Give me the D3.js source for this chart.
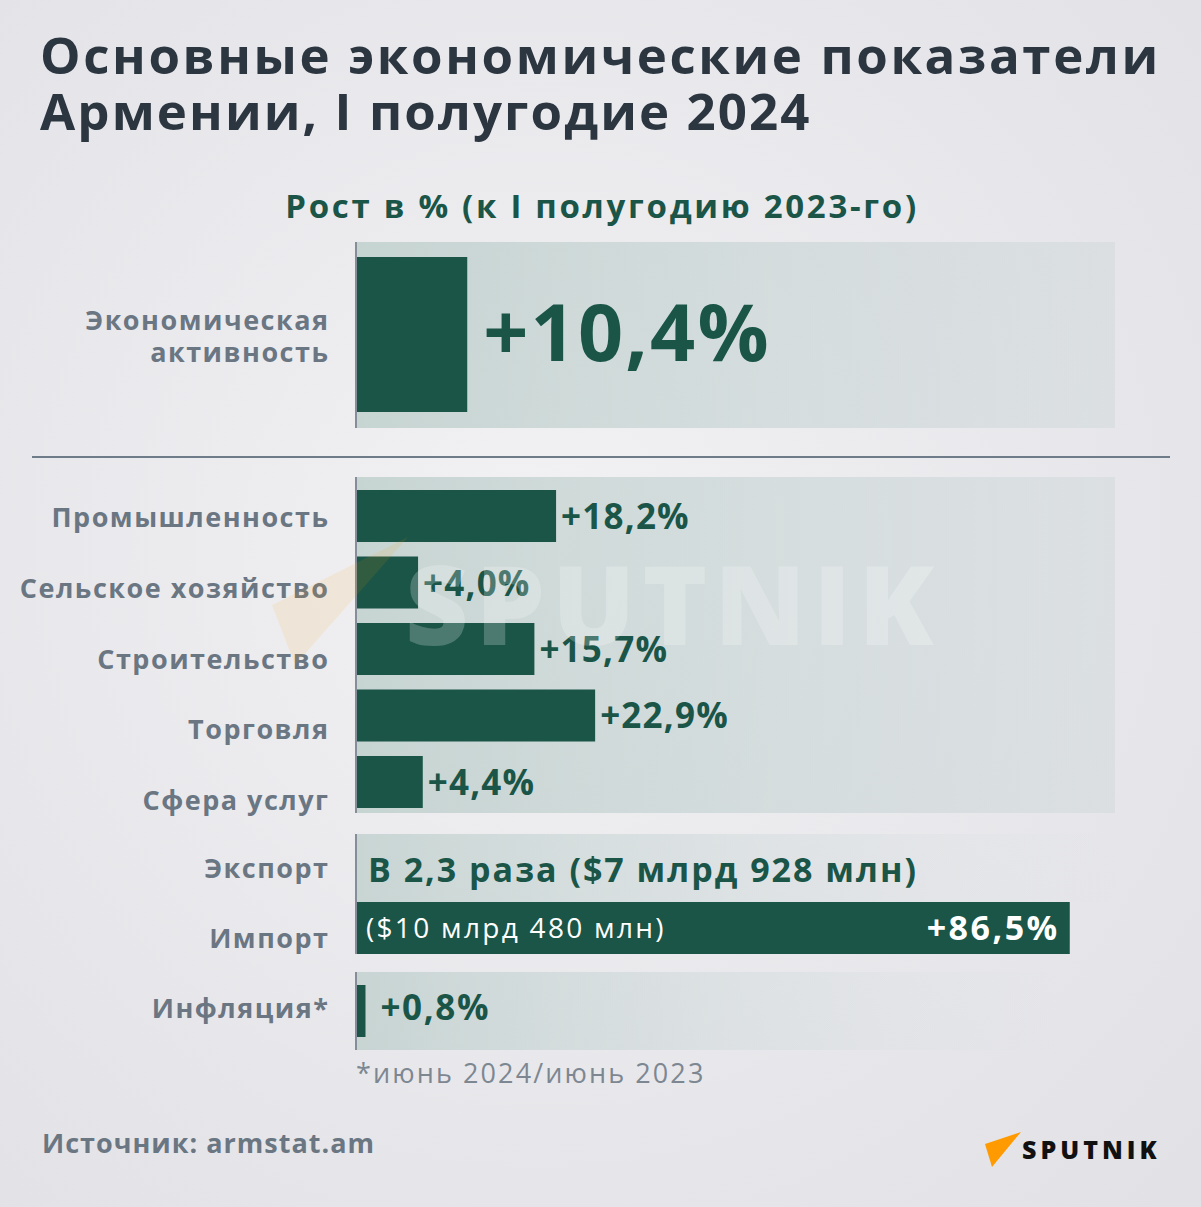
<!DOCTYPE html>
<html><head><meta charset="utf-8">
<script src="https://cdn.jsdelivr.net/npm/d3@7"></script>
<style>html,body{margin:0;padding:0;background:#e6e6ea}svg{display:block}</style>
</head><body>
<script>
// ---------- data ----------
const titleLines = ["Основные экономические показатели", "Армении, I полугодие 2024"];
const subtitle = "Рост в % (к I полугодию 2023-го)";
const topCategory = ["Экономическая", "активность"];
const topValues = [10.4];
const sectorCategories = ["Промышленность", "Сельское хозяйство", "Строительство", "Торговля", "Сфера услуг"];
const sectorValues = [18.2, 4.0, 15.7, 22.9, 4.4];
const tradeCategories = ["Экспорт", "Импорт"];
const exportNote = "В 2,3 раза ($7 млрд 928 млн)";
const importValues = [86.5];
const importNote = "($10 млрд 480 млн)";
const inflationCategory = "Инфляция*";
const inflationValues = [0.8];
const footnote = "*июнь 2024/июнь 2023";
const source = "Источник: armstat.am";

const fmt = v => "+" + d3.format(".1f")(v).replace(".", ",") + "%";

// ---------- styles ----------
const W = 1201, H = 1207;
const FONT = "'Open Sans', 'Noto Sans', sans-serif";
const GREEN = "#1a5548", DARK = "#2c3640", GRAY = "#6b7683";
const X0 = 357, LABEL_X = 328;

const svg = d3.select("body").append("svg").attr("width", W).attr("height", H)
  .style("font-family", FONT);
const defs = svg.append("defs");

const bgGrad = defs.append("radialGradient").attr("id", "bg")
  .attr("cx", "45%").attr("cy", "45%").attr("r", "75%");
bgGrad.append("stop").attr("offset", "0%").attr("stop-color", "#f2f2f4");
bgGrad.append("stop").attr("offset", "100%").attr("stop-color", "#e1e1e6");

function panelGrad(id, a0, a1) {
  const g = defs.append("linearGradient").attr("id", id).attr("x1", "0%").attr("x2", "100%");
  g.append("stop").attr("offset", "0%").attr("stop-color", "#b9ccc8").attr("stop-opacity", a0);
  g.append("stop").attr("offset", "100%").attr("stop-color", "#cdd6d8").attr("stop-opacity", a1);
}
panelGrad("pFull", 0.75, 0.45);
panelGrad("pFade", 0.7, 0.0);

svg.append("rect").attr("width", W).attr("height", H).attr("fill", "url(#bg)");

// ---------- title ----------
svg.append("g").selectAll("text").data(titleLines).join("text")
  .attr("x", 40).attr("y", (d, i) => 74 + i * 56)
  .attr("font-size", 51).attr("font-weight", 700).attr("letter-spacing", (d, i) => i ? 2.1 : 2.6)
  .attr("fill", DARK).text(d => d);

svg.append("text").attr("x", 602).attr("y", 218).attr("text-anchor", "middle")
  .attr("font-size", 33).attr("font-weight", 700).attr("letter-spacing", 2.7)
  .attr("fill", GREEN).text(subtitle);

// ---------- scales ----------
const xTop = d3.scaleLinear().domain([0, 10]).range([0, 106]);
const xSector = d3.scalePow().exponent(0.78).domain([0, 25]).range([0, 255]);
const xTrade = d3.scaleLinear().domain([0, 100]).range([0, 824]);

function panel(y0, y1, w, fill) {
  svg.append("rect").attr("x", X0).attr("y", y0).attr("width", w).attr("height", y1 - y0).attr("fill", fill);
}
function axisLine(y0, y1) {
  svg.append("line").attr("x1", 356).attr("x2", 356).attr("y1", y0).attr("y2", y1)
    .attr("stroke", GRAY).attr("stroke-width", 1.6);
}
function leftLabel(txt, y) {
  svg.append("text").attr("x", LABEL_X + 1.5).attr("y", y).attr("text-anchor", "end")
    .attr("font-size", 27).attr("font-weight", 700).attr("letter-spacing", 1.5)
    .attr("fill", GRAY).text(txt);
}

// ---------- top panel ----------
panel(242, 428, 758, "url(#pFull)");
svg.append("g").selectAll("rect").data(topValues).join("rect")
  .attr("x", X0).attr("y", 257).attr("width", d => xTop(d)).attr("height", 155).attr("fill", GREEN);
svg.append("g").selectAll("text").data(topValues).join("text")
  .attr("x", d => X0 + xTop(d) + 16).attr("y", 361)
  .attr("font-size", 79).attr("font-weight", 700).attr("letter-spacing", 2.2)
  .attr("fill", GREEN).text(fmt);
axisLine(242, 428);
topCategory.forEach((t, i) => leftLabel(t, 330 + i * 32));

svg.append("line").attr("x1", 32).attr("x2", 1170).attr("y1", 457).attr("y2", 457)
  .attr("stroke", "#6e7b88").attr("stroke-width", 2);

// ---------- sectors ----------
panel(477, 813, 758, "url(#pFull)");
const ySector = d3.scaleBand().domain(sectorCategories).range([490, 808]).paddingInner(0.218).paddingOuter(0);
const yLabel = d3.scalePoint().domain(sectorCategories).range([527, 810]);
const sectors = sectorCategories.map((c, i) => ({ c, v: sectorValues[i] }));
svg.append("g").selectAll("rect").data(sectors).join("rect")
  .attr("x", X0).attr("y", d => ySector(d.c)).attr("width", d => xSector(d.v))
  .attr("height", ySector.bandwidth()).attr("fill", GREEN);
svg.append("g").selectAll("text").data(sectors).join("text")
  .attr("x", d => X0 + xSector(d.v) + 5).attr("y", d => ySector(d.c) + ySector.bandwidth() / 2 + 13)
  .attr("font-size", 35).attr("font-weight", 700).attr("letter-spacing", 1.2)
  .attr("fill", GREEN).text(d => fmt(d.v));
axisLine(477, 813);
sectors.forEach(d => leftLabel(d.c, yLabel(d.c)));

// ---------- trade ----------
panel(834, 902, 760, "url(#pFade)");
svg.append("text").attr("x", 368).attr("y", 882).attr("font-size", 34).attr("font-weight", 700)
  .attr("letter-spacing", 2).attr("fill", GREEN).text(exportNote);
svg.append("g").selectAll("rect").data(importValues).join("rect")
  .attr("x", X0).attr("y", 902).attr("width", d => xTrade(d)).attr("height", 52).attr("fill", GREEN);
svg.append("text").attr("x", 366).attr("y", 938).attr("font-size", 28).attr("font-weight", 400)
  .attr("letter-spacing", 2.3).attr("fill", "#ffffff").text(importNote);
svg.append("g").selectAll("text").data(importValues).join("text")
  .attr("x", d => X0 + xTrade(d) - 10).attr("y", 940).attr("text-anchor", "end")
  .attr("font-size", 34).attr("font-weight", 700).attr("letter-spacing", 2.5)
  .attr("fill", "#ffffff").text(fmt);
axisLine(834, 954);
leftLabel(tradeCategories[0], 878);
leftLabel(tradeCategories[1], 948);

// ---------- inflation ----------
panel(972, 1050, 700, "url(#pFade)");
svg.append("g").selectAll("rect").data(inflationValues).join("rect")
  .attr("x", X0).attr("y", 985).attr("width", d => xTop(d)).attr("height", 52).attr("fill", GREEN);
svg.append("g").selectAll("text").data(inflationValues).join("text")
  .attr("x", d => X0 + xTop(d) + 15).attr("y", 1020)
  .attr("font-size", 35).attr("font-weight", 700).attr("letter-spacing", 1.6)
  .attr("fill", GREEN).text(fmt);
axisLine(972, 1050);
leftLabel(inflationCategory, 1018);

svg.append("text").attr("x", 356).attr("y", 1083).attr("font-size", 27).attr("font-weight", 400)
  .attr("letter-spacing", 2.1).attr("fill", "#7d8791").text(footnote);

// ---------- footer ----------
svg.append("text").attr("x", 42).attr("y", 1153).attr("font-size", 27).attr("font-weight", 700)
  .attr("letter-spacing", 1).attr("fill", GRAY).text(source);

svg.append("path").attr("d", "M985,1144 L1021,1132 L992,1167 Z").attr("fill", "#ff9a00");
svg.append("text").attr("x", 1022).attr("y", 1159).attr("font-size", 25).attr("font-weight", 800)
  .attr("letter-spacing", 4).attr("fill", "#111").text("SPUTNIK");

// ---------- watermark ----------
svg.append("path").attr("d", "M408,537 L272,605 L295,665 Z").attr("fill", "#ff9a00").attr("opacity", 0.1);
svg.append("text").attr("x", 405).attr("y", 645).attr("font-size", 110).attr("font-weight", 800)
  .attr("fill", "#ffffff").attr("opacity", 0.22).attr("letter-spacing", 7).text("SPUTNIK");
</script>
</body></html>
